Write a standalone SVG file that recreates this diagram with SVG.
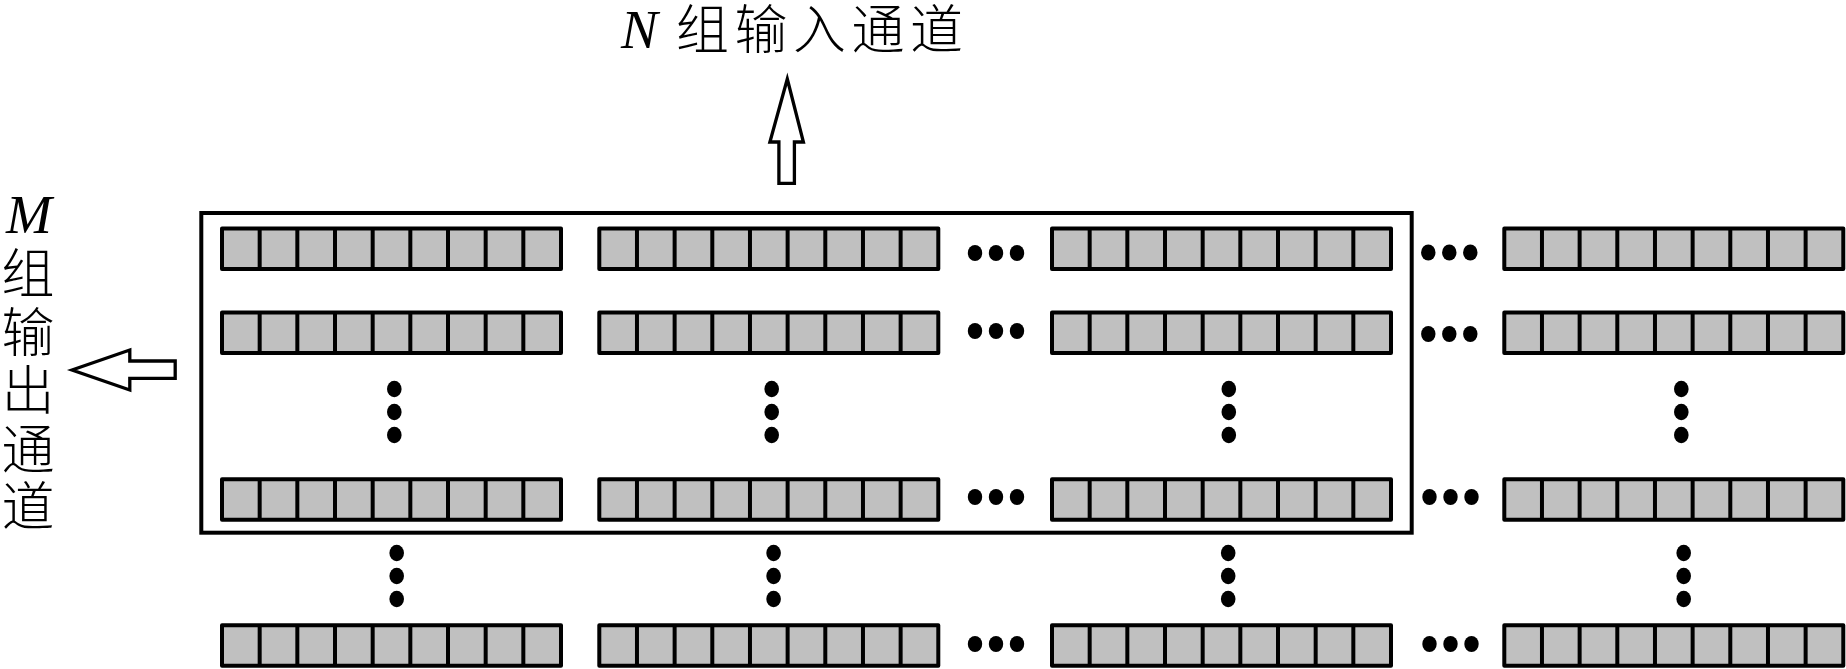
<svg xmlns="http://www.w3.org/2000/svg" xmlns:xlink="http://www.w3.org/1999/xlink" width="1846" height="669" viewBox="0 0 1846 669">
<style>
.reg{fill:#c0c0c0;stroke:#000;stroke-width:4;stroke-linejoin:round}
.div{stroke:#000;stroke-width:4}
.frame{fill:none;stroke:#000;stroke-width:4}
.arrow{fill:#fff;stroke:#000;stroke-width:3.3;stroke-linejoin:miter}
.dot{fill:#000}
.lat{font-family:"Liberation Serif","Times New Roman",serif;font-style:italic;font-size:55px;fill:#000}
.cjk{font-family:"Noto Sans CJK SC","Noto Sans CJK TC",sans-serif;font-size:53px;fill:#000;font-weight:300}
</style>
<defs>
<g id="row9">
<rect class="reg" x="0" y="0" width="339" height="40.5"/>
<path class="div" d="M37.67 0V40.5M75.33 0V40.5M113 0V40.5M150.67 0V40.5M188.33 0V40.5M226 0V40.5M263.67 0V40.5M301.33 0V40.5"/>
</g>
<g id="hdots">
<ellipse class="dot" cx="0" cy="0" rx="7.2" ry="8"/>
<ellipse class="dot" cx="21" cy="0" rx="7.2" ry="8"/>
<ellipse class="dot" cx="42" cy="0" rx="7.2" ry="8"/>
</g>
<g id="vdots">
<ellipse class="dot" cx="0" cy="0" rx="7.3" ry="8.3"/>
<ellipse class="dot" cx="0" cy="23" rx="7.3" ry="8.3"/>
<ellipse class="dot" cx="0" cy="46" rx="7.3" ry="8.3"/>
</g>
</defs>
<rect width="1846" height="669" fill="#fff"/>

<g id="labels">
<text class="lat" x="621" y="48">N</text>
<text class="cjk" x="676" y="49" textLength="287" lengthAdjust="spacing">组输入通道</text>
<text class="lat" x="29" y="233" text-anchor="middle">M</text>
<text class="cjk" x="28" y="293" text-anchor="middle">组</text>
<text class="cjk" x="28" y="352" text-anchor="middle">输</text>
<text class="cjk" x="28" y="410" text-anchor="middle">出</text>
<text class="cjk" x="28" y="469" text-anchor="middle">通</text>
<text class="cjk" x="28" y="526" text-anchor="middle">道</text>
</g>

<g id="frame">
<rect class="frame" x="201.3" y="213" width="1210.4" height="319.7"/>
</g>

<g id="connectors">
<polygon class="arrow" points="787.3,79 803.4,142 794.4,142 794.4,183.4 778.9,183.4 778.9,142 769.9,142"/>
<polygon class="arrow" points="72,370 129.8,350 129.8,361 175.2,361 175.2,378.4 129.8,378.4 129.8,390"/>
</g>

<g id="r1c1"><use xlink:href="#row9" x="222" y="228.5"/></g>
<g id="r1c2"><use xlink:href="#row9" x="599.3" y="228.5"/></g>
<g id="r1c3"><use xlink:href="#row9" x="1052" y="228.5"/></g>
<g id="r1c4"><use xlink:href="#row9" x="1504.3" y="228.5"/></g>
<g id="r2c1"><use xlink:href="#row9" x="222" y="312.5"/></g>
<g id="r2c2"><use xlink:href="#row9" x="599.3" y="312.5"/></g>
<g id="r2c3"><use xlink:href="#row9" x="1052" y="312.5"/></g>
<g id="r2c4"><use xlink:href="#row9" x="1504.3" y="312.5"/></g>
<g id="r3c1"><use xlink:href="#row9" x="222" y="479.3"/></g>
<g id="r3c2"><use xlink:href="#row9" x="599.3" y="479.3"/></g>
<g id="r3c3"><use xlink:href="#row9" x="1052" y="479.3"/></g>
<g id="r3c4"><use xlink:href="#row9" x="1504.3" y="479.3"/></g>
<g id="r4c1"><use xlink:href="#row9" x="222" y="625.3"/></g>
<g id="r4c2"><use xlink:href="#row9" x="599.3" y="625.3"/></g>
<g id="r4c3"><use xlink:href="#row9" x="1052" y="625.3"/></g>
<g id="r4c4"><use xlink:href="#row9" x="1504.3" y="625.3"/></g>

<g id="ellipses">
<use xlink:href="#hdots" x="975" y="253"/>
<use xlink:href="#hdots" x="1428.3" y="252.5"/>
<use xlink:href="#hdots" x="975" y="331"/>
<use xlink:href="#hdots" x="1428.3" y="334"/>
<use xlink:href="#hdots" x="975" y="497"/>
<use xlink:href="#hdots" x="1429.5" y="497"/>
<use xlink:href="#hdots" x="975" y="644"/>
<use xlink:href="#hdots" x="1429.5" y="644"/>
<use xlink:href="#vdots" x="394.3" y="389"/>
<use xlink:href="#vdots" x="771.7" y="389"/>
<use xlink:href="#vdots" x="1228.8" y="389"/>
<use xlink:href="#vdots" x="1681.3" y="389"/>
<use xlink:href="#vdots" x="396.7" y="553"/>
<use xlink:href="#vdots" x="773.6" y="553"/>
<use xlink:href="#vdots" x="1228.2" y="553"/>
<use xlink:href="#vdots" x="1683.7" y="553"/>
</g>
</svg>
